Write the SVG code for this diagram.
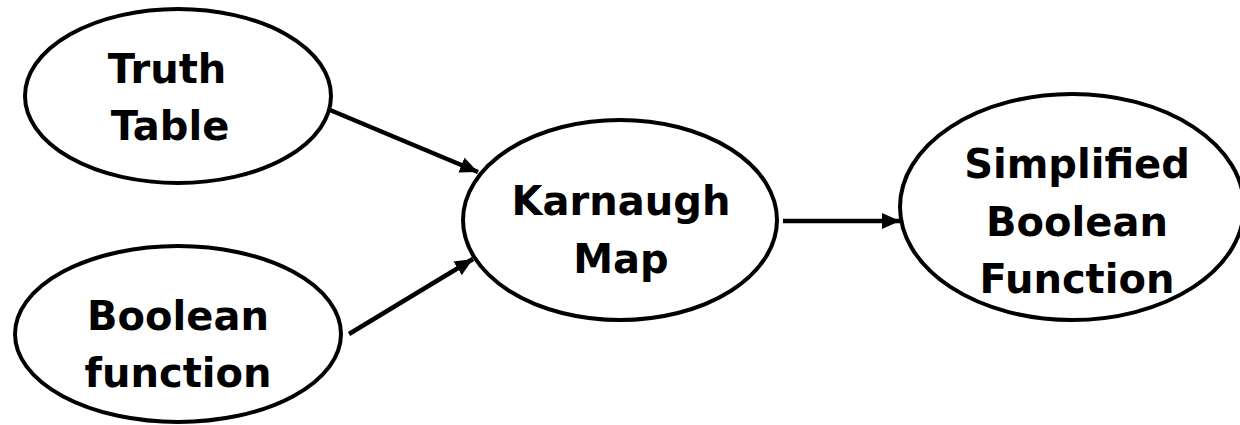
<svg xmlns="http://www.w3.org/2000/svg" width="1240" height="425" viewBox="0 0 1240 425">
<style>
.node{fill:#fff;stroke:#000;stroke-width:4}
.lbl{font-family:"DejaVu Sans","Liberation Sans",sans-serif;font-weight:bold;font-size:40px;fill:#000;text-anchor:middle}
.edge{fill:none;stroke:#000;stroke-width:4.5}
</style>
<defs>
<marker id="arr" viewBox="0 0 18 16" refX="18" refY="8" markerWidth="18" markerHeight="16" markerUnits="userSpaceOnUse" orient="auto">
<path d="M0,0 L18,8 L0,16 Z" fill="#000"/>
</marker>
</defs>
<rect width="1240" height="425" fill="#fff"/>
<g id="connectors">
<line class="edge" x1="330" y1="110" x2="478" y2="172" marker-end="url(#arr)"/>
<line class="edge" x1="349" y1="334" x2="473" y2="259" marker-end="url(#arr)"/>
<line class="edge" x1="783" y1="221" x2="900" y2="221" marker-end="url(#arr)"/>
</g>
<g id="truth-table">
<ellipse class="node" cx="178" cy="96" rx="153" ry="87"/>
<text class="lbl" x="167" y="83">Truth</text>
<text class="lbl" x="170" y="140">Table</text>
</g>
<g id="boolean-function">
<ellipse class="node" cx="178" cy="334" rx="163" ry="88"/>
<text class="lbl" x="178" y="330">Boolean</text>
<text class="lbl" x="178" y="387">function</text>
</g>
<g id="karnaugh-map">
<ellipse class="node" cx="620" cy="220" rx="157" ry="100"/>
<text class="lbl" x="621" y="215">Karnaugh</text>
<text class="lbl" x="621" y="273">Map</text>
</g>
<g id="simplified">
<ellipse class="node" cx="1072" cy="207" rx="172" ry="113"/>
<text class="lbl" x="1077" y="178">Simplified</text>
<text class="lbl" x="1077" y="236">Boolean</text>
<text class="lbl" x="1077" y="293">Function</text>
</g>
</svg>
